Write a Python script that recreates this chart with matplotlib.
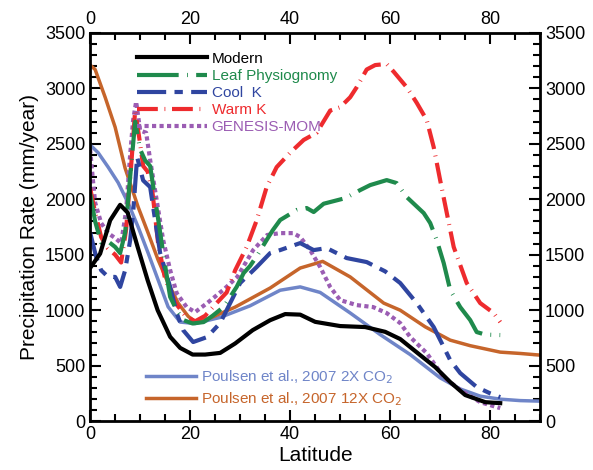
import numpy as np
import matplotlib
matplotlib.use("Agg")
import matplotlib.pyplot as plt
from matplotlib.ticker import MultipleLocator

plt.rcParams['font.family'] = ['Liberation Sans', 'DejaVu Sans']

# Modern
lat_modern = [0, 2, 4, 6, 7.5, 9.5, 11.5, 13.5, 16, 18, 20.5, 23, 26, 29, 32.5, 36, 39, 42, 45, 50,
              55, 59, 62, 66, 69, 72, 75, 79, 82]
val_modern = [1380, 1510, 1810, 1950, 1880, 1570, 1270, 1000, 760, 660, 600, 600, 615, 700, 820, 910,
              965, 960, 895, 857, 848, 805, 740, 595, 487, 352, 235, 171, 162]

# Leaf Physiognomy
lat_leaf = [0, 1, 2.2, 3.6, 5, 6, 7, 8, 9, 10, 11, 12, 13, 14, 15, 16, 17.3, 18.7, 20.5, 22.7, 24.5,
            26.7, 29.3, 30.7, 32, 33.5, 35.3, 36.5, 38, 41.3, 43.3, 44.7, 46.7, 51, 54, 56, 59.3, 61.3,
            63.3, 66.7, 68, 69.3, 70.7, 72, 74, 76, 77.3, 79, 82]
val_leaf = [2050, 1800, 1610, 1620, 1570, 1515, 1700, 2200, 2700, 2450, 2350, 2300, 2000, 1700, 1400,
            1120, 1000, 910, 880, 893, 950, 1030, 1210, 1335, 1400, 1500, 1633, 1720, 1813, 1903, 1921,
            1885, 1960, 2010, 2083, 2128, 2173, 2146, 2020, 1876, 1786, 1633, 1425, 1182, 1028, 911, 803,
            780, 776]

# Cool K
lat_cool = [0, 1.2, 2.2, 3.6, 5, 6, 7, 8, 8.6, 9.4, 10.6, 12, 12.6, 14, 16, 17.3, 18.6, 20.6, 23.4,
            26, 28, 30, 33.3, 36, 38, 42, 44.7, 47.3, 51.3, 55.3, 59, 62, 65.3, 68.7, 70.7, 72, 74, 77.3,
            80, 82]
val_cool = [1700, 1480, 1360, 1300, 1300, 1210, 1360, 1630, 1880, 2380, 2170, 2110, 1930, 1515, 1210,
            975, 820, 713, 758, 884, 1064, 1245, 1389, 1515, 1542, 1605, 1542, 1560, 1470, 1434, 1350,
            1245, 1064, 848, 668, 550, 433, 307, 250, 216]

# Warm K
lat_warm = [0, 1, 2.2, 3.5, 5, 6.2, 7.2, 8.2, 9, 10, 10.6, 11.5, 12.5, 13.6, 15, 17, 19, 21, 23, 25,
            27.3, 29, 31.3, 33.3, 35.3, 37.3, 40, 42.7, 45.3, 48, 50, 52, 53.3, 55.3, 57, 59.3, 60.7,
            63.3, 65.3, 67.3, 68.7, 70, 71.3, 72.7, 75.3, 78, 80.7, 82]
val_warm = [2100, 1880, 1660, 1560, 1500, 1430, 1730, 2300, 2800, 2500, 2300, 2250, 2050, 1600, 1280,
            1070, 950, 900, 950, 1050, 1160, 1360, 1570, 1810, 2110, 2290, 2420, 2535, 2600, 2800, 2830,
            2920, 3010, 3170, 3210, 3220, 3150, 3010, 2870, 2715, 2470, 2170, 1880, 1570, 1245, 1064,
            974, 893]

# GENESIS-MOM
lat_gen = [0, 0.5, 1, 2.2, 3.6, 5, 6.2, 7.2, 8, 8.6, 9.2, 10, 11.2, 12, 13.4, 14.6, 16, 17.3, 19.3, 21,
           23.4, 26.6, 29.4, 32.6, 35.4, 38, 40.6, 42, 44, 46, 48, 50, 53.3, 56.6, 59.3, 62, 64, 67.3,
           70.7, 74, 78, 82]
val_gen = [2450, 2200, 1970, 1786, 1695, 1650, 1605, 1900, 2400, 2715, 2880, 2620, 2600, 2354, 1966,
           1633, 1362, 1154, 1028, 983, 1064, 1182, 1299, 1542, 1678, 1695, 1695, 1660, 1542, 1389,
           1209, 1091, 1046, 1028, 974, 884, 758, 613, 397, 280, 171, 117]

# Poulsen et al., 2007 2X CO2
lat_p2 = [0, 1.6, 3.6, 5.6, 7.6, 9.6, 11.6, 13.6, 15.6, 18, 21, 26, 32, 38, 42, 46, 52, 58, 64, 70, 74,
          78, 82, 86, 90]
val_p2 = [2490, 2420, 2290, 2150, 1966, 1750, 1515, 1272, 1030, 893, 880, 935, 1040, 1180, 1210, 1160,
          975, 780, 600, 390, 290, 225, 198, 185, 180]

# Poulsen et al., 2007 12X CO2
lat_p12 = [0, 1, 3, 5, 7, 9.6, 11.6, 13.6, 15.6, 17.6, 19.6, 21, 24, 29, 36, 42, 46.5, 52, 58.7, 62, 67,
           72, 76, 82, 86, 90]
val_p12 = [3210, 3170, 2920, 2650, 2280, 1930, 1695, 1452, 1244, 1064, 945, 895, 929, 1028, 1200, 1380,
           1440, 1300, 1064, 1000, 850, 730, 680, 622, 610, 595]

c_leaf = '#1f8a4c'
c_cool = '#2f45a0'
c_warm = '#ee2b2e'
c_gen = '#9b5db3'
c_p2 = '#6f85c8'
c_p12 = '#c6652b'

fig = plt.figure(figsize=(5.93, 4.70), dpi=100)
ax = fig.add_axes([0.152, 0.104, 0.759, 0.826])

ax.plot(lat_p2, val_p2, color=c_p2, lw=2.5)
ax.plot(lat_p12, val_p12, color=c_p12, lw=2.5)
l_gen, = ax.plot(lat_gen, val_gen, color=c_gen, lw=3, dashes=(1, 0.8), label='GENESIS-MOM')
l_warm, = ax.plot(lat_warm, val_warm, color=c_warm, lw=3, dashes=(5, 1.6, 0.2, 1.6), label='Warm K')
l_cool, = ax.plot(lat_cool, val_cool, color=c_cool, lw=3, dashes=(7, 2, 2, 2), label='Cool  K')
l_leaf, = ax.plot(lat_leaf, val_leaf, color=c_leaf, lw=3, dashes=(10, 2, 0.2, 2), label='Leaf Physiognomy')
l_mod, = ax.plot(lat_modern, val_modern, color='black', lw=3, label='Modern')

ax.set_xlim(0, 90)
ax.set_ylim(0, 3500)
ax.xaxis.set_major_locator(MultipleLocator(20))
ax.xaxis.set_minor_locator(MultipleLocator(5))
ax.yaxis.set_major_locator(MultipleLocator(500))
ax.yaxis.set_minor_locator(MultipleLocator(100))
ax.tick_params(which='both', direction='in', top=True, right=True,
               labeltop=True, labelright=True, width=1.5, labelsize=13)
ax.tick_params(which='major', length=8)
ax.tick_params(which='minor', length=5)
for s in ax.spines.values():
    s.set_linewidth(2)

ax.set_xlabel('Latitude', fontsize=15, labelpad=2)
ax.set_ylabel('Precipitation Rate (mm/year)', fontsize=15, labelpad=4)

leg1 = ax.legend(handles=[l_mod, l_leaf, l_cool, l_warm, l_gen], loc='upper left',
                 bbox_to_anchor=(0.09, 0.967), frameon=False, fontsize=11, handlelength=4.6,
                 handletextpad=0.3, labelspacing=0.2, labelcolor='linecolor', borderaxespad=0)
ax.add_artist(leg1)

h2, = ax.plot([], [], color=c_p2, lw=2.5, label='Poulsen et al., 2007 2X CO$_2$')
h12, = ax.plot([], [], color=c_p12, lw=2.5, label='Poulsen et al., 2007 12X CO$_2$')
ax.legend(handles=[h2, h12], loc='lower left', bbox_to_anchor=(0.11, 0.017), frameon=False,
          fontsize=11, handlelength=3.3, handletextpad=0.3, labelspacing=0.3,
          labelcolor='linecolor', borderaxespad=0)

fig.savefig('out.png', dpi=100)
